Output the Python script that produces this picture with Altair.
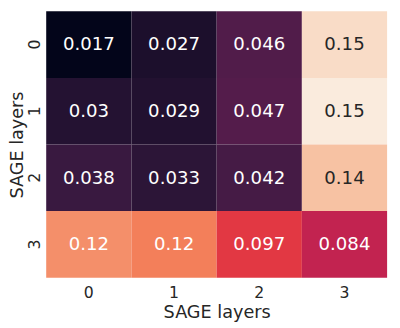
import altair as alt
import pandas as pd

rows = ["0", "1", "2", "3"]
cols = ["0", "1", "2", "3"]
row0 = [0.017, 0.027, 0.046, 0.149]
row1 = [0.030, 0.029, 0.047, 0.1545]
row2 = [0.038, 0.033, 0.042, 0.140]
row3 = [0.123, 0.118, 0.097, 0.084]
rocket_stops = ["#03051a", "#35193e", "#701f57", "#ad1759",
                "#e13342", "#f37651", "#f6b48f", "#faebdd"]

records = []
for r, vals in zip(rows, [row0, row1, row2, row3]):
    for c, v in zip(cols, vals):
        records.append({"row": r, "col": c, "value": v})
df = pd.DataFrame(records)
vmin, vmax = float(df.value.min()), float(df.value.max())
n = len(rocket_stops)
domain = [vmin + (vmax - vmin) * k / (n - 1) for k in range(n)]

axis_style = dict(
    labelFont="DejaVu Sans", titleFont="DejaVu Sans",
    labelFontSize=16, titleFontSize=18, titleFontWeight="normal",
    labelColor="#262626", titleColor="#262626",
    ticks=False, domain=False,
)

base = alt.Chart(df).encode(
    x=alt.X("col:O", sort=cols, title="SAGE layers",
            scale=alt.Scale(paddingInner=0, paddingOuter=0),
            axis=alt.Axis(labelAngle=0, labelPadding=7, titlePadding=4, **axis_style)),
    y=alt.Y("row:O", sort=rows, title="SAGE layers",
            scale=alt.Scale(paddingInner=0, paddingOuter=0),
            axis=alt.Axis(labelAngle=270, labelPadding=4, titlePadding=0, **axis_style)),
)

rect = base.mark_rect().encode(
    color=alt.Color("value:Q",
                    scale=alt.Scale(domain=domain, range=rocket_stops, interpolate="rgb"),
                    legend=None)
)

text = base.mark_text(fontSize=18.5, font="DejaVu Sans", baseline="middle", align="center").encode(
    text=alt.Text("value:Q", format=".2~g"),
    color=alt.condition("datum.value > 0.13", alt.value("#262626"), alt.value("#ffffff")),
)

chart = (rect + text).properties(
    width=348, height=272,
    autosize="none",
    padding={"left": 39, "top": 0, "right": 5, "bottom": 48},
).configure_view(stroke=None)

chart.save("out.html", embed_options={"renderer": "svg", "actions": False})
